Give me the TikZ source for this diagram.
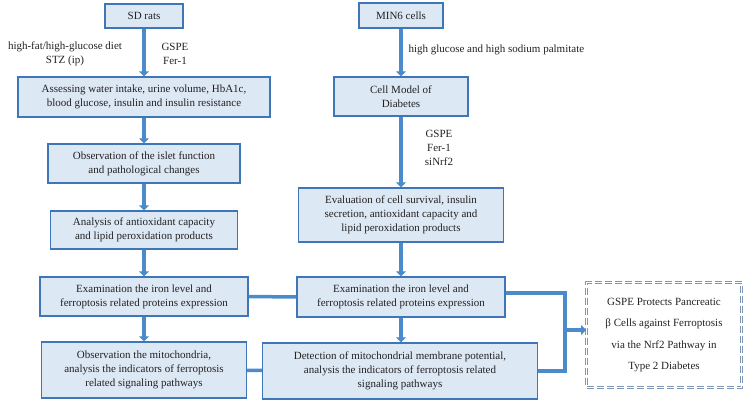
\documentclass[tikz,border=0pt]{standalone}
\usepackage{fontspec}
\setmainfont{Liberation Serif}
\usepackage{tikz}
\usetikzlibrary{arrows.meta}
\definecolor{boxfill}{HTML}{DDE8F5}
\definecolor{boxdraw}{HTML}{3F76B8}
\definecolor{flowcolor}{HTML}{4C8BCB}
\definecolor{resultdraw}{HTML}{7F97B4}
\definecolor{textcolor}{HTML}{222222}
\tikzset{
  step box/.style={
    draw=boxdraw,
    fill=boxfill,
    line width=1.3pt,
    align=center,
    inner sep=2pt,
    font=\fontsize{11}{14}\selectfont,
    text=textcolor
  },
  result box/.style={
    draw=resultdraw,
    double,
    double distance=0.9pt,
    line width=1pt,
    dash pattern=on 7pt off 3pt,
    align=center,
    minimum width=155pt,
    minimum height=105pt,
    font=\fontsize{11}{21.5}\selectfont,
    text=textcolor
  },
  flow/.style={
    draw=flowcolor,
    line width=3.5pt,
    -{Triangle[length=5pt,width=10pt]}
  },
  link/.style={
    draw=flowcolor,
    line width=3.5pt
  },
  treatment/.style={
    font=\fontsize{11}{14}\selectfont,
    text=textcolor,
    align=center
  }
}

\begin{document}
\begin{tikzpicture}[x=1pt,y=-1pt]
  \useasboundingbox (0,0) rectangle (747,406);

  % animal experiments
  \node[step box,minimum width=78pt,minimum height=24pt] (sd) at (144,16) {SD rats};
  \node[step box,minimum width=252pt,minimum height=40pt] (assess) at (144,97) {Assessing water intake, urine volume, HbA1c,\\blood glucose, insulin and insulin resistance};
  \node[step box,minimum width=192pt,minimum height=39pt] (islet) at (144,163.5) {Observation of the islet function\\and pathological changes};
  \node[step box,minimum width=187pt,minimum height=38pt] (antiox) at (144,230) {Analysis of antioxidant capacity\\and lipid peroxidation products};
  \node[step box,minimum width=208pt,minimum height=39pt] (ironL) at (144,296.5) {Examination the iron level and\\ferroptosis related proteins expression};
  \node[step box,minimum width=205pt,minimum height=56pt] (mitoL) at (144,370) {Observation the mitochondria,\\analysis the indicators of ferroptosis\\related signaling pathways};

  % cell experiments
  \node[step box,minimum width=84pt,minimum height=25pt] (min6) at (401,15.5) {MIN6 cells};
  \node[step box,minimum width=134pt,minimum height=39pt] (model) at (401,96.5) {Cell Model of\\Diabetes};
  \node[step box,minimum width=205pt,minimum height=54pt] (survival) at (401,215) {Evaluation of cell survival, insulin\\secretion, antioxidant capacity and\\lipid peroxidation products};
  \node[step box,minimum width=208pt,minimum height=40pt] (ironR) at (401,297) {Examination the iron level and\\ferroptosis related proteins expression};
  \node[step box,minimum width=275pt,minimum height=56pt] (mitoR) at (400,371) {Detection of mitochondrial membrane potential,\\analysis the indicators of ferroptosis related\\signaling pathways};

  \node[result box] (result) at (664,335) {GSPE Protects Pancreatic\\β Cells against Ferroptosis\\via the Nrf2 Pathway in\\Type 2 Diabetes};

  % treatments
  \node[treatment] (diet) at (65,54) {high-fat/high-glucose diet\\STZ (ip)};
  \node[treatment] (drugL) at (175,54) {GSPE\\Fer-1};
  \node[treatment,anchor=west] (hg) at (405,50) {high glucose and high sodium palmitate};
  \node[treatment] (drugR) at (439,148) {GSPE\\Fer-1\\siNrf2};

  % arrows
  \draw[flow] (sd) -- (assess);
  \draw[flow] (assess) -- (islet);
  \draw[flow] (islet) -- (antiox);
  \draw[flow] (antiox) -- (ironL);
  \draw[flow] (ironL) -- (mitoL);
  \draw[flow] (min6) -- (model);
  \draw[flow] (model) -- (survival);
  \draw[flow] (survival) -- (ironR);
  \draw[flow] (ironR.south) -- (ironR.south |- mitoR.north);

  \draw[link] (ironL) -- (ironR);
  \draw[link] (mitoL) -- (mitoR);
  \coordinate (join) at (565,330);
  \draw[link] ([yshift=4pt]ironR.east) -| (join) |- (mitoR.east);
  \draw[flow] (join) -- (join -| result.west);
\end{tikzpicture}
\end{document}
